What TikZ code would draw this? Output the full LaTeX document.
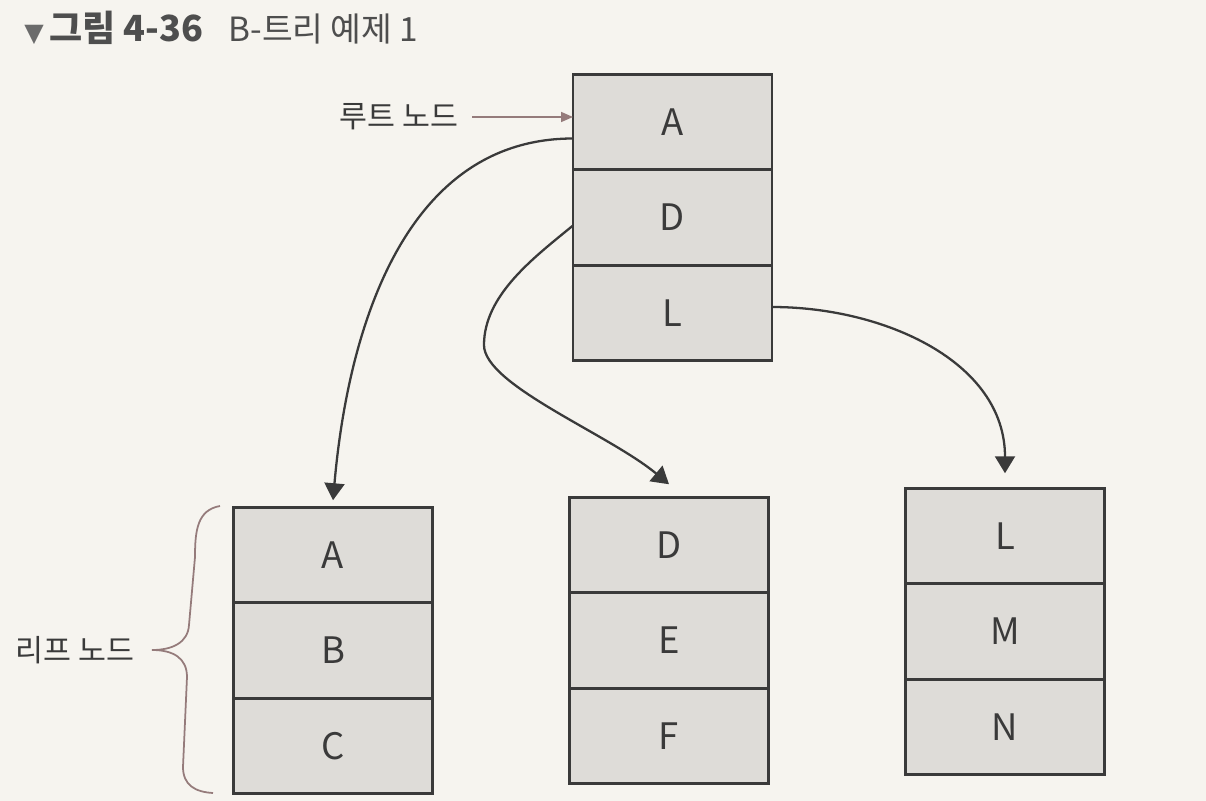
\documentclass[tikz,border=0pt]{standalone}
\usepackage{fontspec}
\setmainfont{Noto Sans CJK KR}
\newfontfamily\symfont{DejaVu Sans}
\usetikzlibrary{positioning,arrows.meta}

\definecolor{paper}{HTML}{F6F4EF}
\definecolor{keyfill}{HTML}{DEDCD8}
\definecolor{ink}{HTML}{3A3A3A}
\definecolor{note}{HTML}{957B7B}

\newcommand*{\keyw}{3.98cm}
\newcommand*{\keyh}{1.91cm}

\begin{document}
\begin{tikzpicture}
[
	key/.style={rectangle,draw=ink,fill=keyfill,line width=1.5pt,outer sep=0pt,minimum width=\keyw,minimum height=\keyh,inner sep=0pt,text=ink,font=\huge},
	link/.style={ink,line width=1.3pt,-{Triangle[width=0.4cm,length=0.34cm]}},
	tag/.style={text=ink,font=\LARGE,inner sep=2pt}
]

	% page
	\fill[paper] (0,0) rectangle (24.12,-16.02);
	\useasboundingbox (0,0) rectangle (24.12,-16.02);

	% title
	\node[anchor=west,text=ink!90,font=\fontsize{19}{19}\selectfont,inner sep=0pt] (title) at (0.48,-0.56)
		{{\symfont\Large\color{ink!75}▼}\,\textbf{\fontsize{20.5}{20}\selectfont 그림 4-36}\hspace{0.5cm}B-트리 예제 1};

	% root
	\node[key] at (13.45,-2.44) (rootA) {A};
	\node[key,below=0pt of rootA] (rootD) {D};
	\node[key,below=0pt of rootD] (rootL) {L};

	% leaves
	\node[key] at (6.66,-11.10) (leafA) {A};
	\node[key,below=0pt of leafA] (leafB) {B};
	\node[key,below=0pt of leafB] (leafC) {C};

	\node[key] at (13.38,-10.90) (leafD) {D};
	\node[key,below=0pt of leafD] (leafE) {E};
	\node[key,below=0pt of leafE] (leafF) {F};

	\node[key] at (20.10,-10.72) (leafL) {L};
	\node[key,below=0pt of leafL] (leafM) {M};
	\node[key,below=0pt of leafM] (leafN) {N};

	% pointers
	\draw[link] ([yshift=-0.33cm]rootA.west) to[out=180,in=85] ([yshift=0.14cm]leafA.north);
	\draw[link] ([yshift=-0.16cm]rootD.west) .. controls +(-0.78,-0.64) and +(0,1.0) .. (9.68,-6.9)
		.. controls +(0,-0.8) and +(-1.2,1.0) .. ([yshift=0.26cm]leafD.north);
	\draw[link] ([yshift=0.12cm]rootL.east) to[out=0,in=90] ([yshift=0.3cm]leafL.north);

	% root label
	\node[tag] at (7.98,-2.34) (rootlbl) {루트 노드};
	\draw[note,line width=0.9pt,shorten <=0.2cm,-{Triangle[width=0.2cm,length=0.24cm]}]
		(rootlbl.east) -- (rootlbl.east -| rootA.west);

	% leaf label
	\node[tag] at (1.5,-13.0) (leaflbl) {리프 노드};
	\draw[note,line width=1pt]
		(4.4,-10.12) .. controls (3.95,-10.2) and (3.9,-10.6) .. (3.9,-11.14)
		-- (3.78,-12.5) .. controls (3.76,-12.85) and (3.45,-13.0) .. (3.04,-13.0)
		.. controls (3.45,-13.0) and (3.74,-13.15) .. (3.74,-13.54)
		-- (3.66,-15.34) .. controls (3.66,-15.7) and (3.9,-15.84) .. (4.26,-15.86);

\end{tikzpicture}
\end{document}
